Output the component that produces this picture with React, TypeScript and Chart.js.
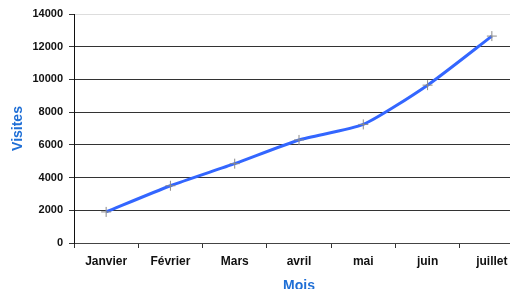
import React, { useEffect, useRef } from "react";
import { Chart, registerables } from "chart.js";

Chart.register(...registerables);

const categories = ["Janvier", "Février", "Mars", "avril", "mai", "juin", "juillet"];
const visites = [1900, 3500, 4850, 6300, 7250, 9650, 12650];
const yTicks = [0, 2000, 4000, 6000, 8000, 10000, 12000, 14000];

const CANVAS_W = 530;
const CANVAS_H = 296;

export default function App() {
  const ref = useRef<HTMLCanvasElement | null>(null);

  useEffect(() => {
    if (!ref.current) return;
    const chart = new Chart(ref.current, {
      type: "line",
      data: {
        labels: categories,
        datasets: [
          {
            label: "Visites",
            data: visites,
            borderColor: "#3366ff",
            borderWidth: 3,
            tension: 0.2,
            pointStyle: "cross",
            pointRadius: 5,
            pointBorderColor: "#8a8a8a",
            pointBorderWidth: 1,
            pointBackgroundColor: "#8a8a8a",
            fill: false,
          },
        ],
      },
      options: {
        responsive: false,
        animation: false,
        devicePixelRatio: 1,
        layout: { padding: { top: 14, right: CANVAS_W - 525, left: 0, bottom: 0 } },
        plugins: { legend: { display: false }, tooltip: { enabled: false } },
        scales: {
          x: {
            type: "category",
            offset: true,
            grid: {
              offset: true,
              drawOnChartArea: false,
              drawTicks: true,
              tickLength: 5,
              color: "#333",
            },
            border: { display: true, color: "#444", width: 1 },
            ticks: {
              color: "#111",
              font: { family: "'Liberation Sans', Arial, sans-serif", size: 12, weight: "bold" },
              padding: 6,
              maxRotation: 0,
              autoSkip: false,
            },
            title: {
              display: true,
              text: "Mois",
              color: "#1f6fd6",
              font: { family: "'Liberation Sans', Arial, sans-serif", size: 14, weight: "bold" },
              padding: { top: 0, bottom: 1 },
            },
            afterFit: (s: any) => {
              s.height = CANVAS_H - 243;
            },
          },
          y: {
            min: 0,
            max: 14000,
            afterBuildTicks: (s: any) => {
              s.ticks = yTicks.map((v) => ({ value: v }));
            },
            grid: {
              color: (ctx: any) => (ctx.tick && ctx.tick.value === 14000 ? "#dddddd" : "#333333"),
              tickColor: "#333",
              tickLength: 5,
              drawTicks: true,
            },
            border: { display: true, color: "#111", width: 1 },
            ticks: {
              color: "#111",
              font: { family: "'Liberation Sans', Arial, sans-serif", size: 11, weight: "bold" },
              padding: 6,
              callback: (v: any) => String(v),
            },
            title: {
              display: true,
              text: "Visites",
              color: "#1f6fd6",
              font: { family: "'Liberation Sans', Arial, sans-serif", size: 14, weight: "bold" },
              padding: { top: 10, bottom: 0 },
            },
            afterFit: (s: any) => {
              s.width = 74;
            },
          },
        },
      },
    });
    return () => chart.destroy();
  }, []);

  return (
    <div
      style={{
        position: "fixed",
        left: 0,
        top: 0,
        width: 510,
        height: 289,
        overflow: "hidden",
        background: "#fff",
      }}
    >
      <canvas ref={ref} width={CANVAS_W} height={CANVAS_H} style={{ display: "block" }} />
    </div>
  );
}
